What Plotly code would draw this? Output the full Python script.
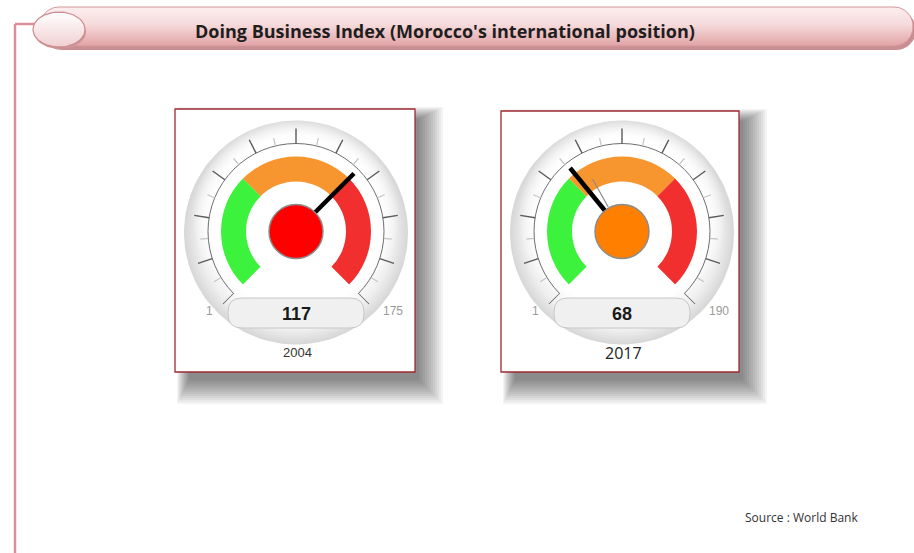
import numpy as np
import plotly.graph_objects as go

W, H = 914, 553

# --- data ---
years = ["2004", "2017"]
ranks = [117, 68]
n_countries = [175, 190]
prev_ranks = [None, 75]  # faint second needle on the 2017 dial
band_colors = ["#3cf23c", "#f7962f", "#f22f2f"]
status_colors = ["#22dd22", "#ff8000", "#ff0000"]
title = "Doing Business Index (Morocco's international position)"
source = "Source : World Bank"

# --- layout geometry (pixels) ---
centers_x = [296, 622]
center_y = 231.5
frames = [(175, 109, 415, 372), (501, 111, 739, 372)]
R_POL = 104
SWEEP = 270


def to_theta(v, vmax, vmin=1):
    return (np.asarray(v, dtype=float) - vmin) / (vmax - vmin) * SWEEP


def rounded_pts(x0, y0, x1, y1, r, n=14):
    a = np.linspace(0, np.pi / 2, n)
    xs, ys = [], []
    for cxr, cyr, start in [(x1 - r, y0 + r, -np.pi / 2), (x1 - r, y1 - r, 0),
                            (x0 + r, y1 - r, np.pi / 2), (x0 + r, y0 + r, np.pi)]:
        xs.extend(cxr + r * np.cos(start + a))
        ys.extend(cyr + r * np.sin(start + a))
    return xs + [xs[0]], ys + [ys[0]]


def ellipse_pts(cx, cy, rx, ry, n=80):
    a = np.linspace(0, 2 * np.pi, n)
    return cx + rx * np.cos(a), cy + ry * np.sin(a)


def rr_path(x0, y0, x1, y1, r):
    return (f"M{x0+r},{y0} L{x1-r},{y0} Q{x1},{y0} {x1},{y0+r} L{x1},{y1-r} "
            f"Q{x1},{y1} {x1-r},{y1} L{x0+r},{y1} Q{x0},{y1} {x0},{y1-r} "
            f"L{x0},{y0+r} Q{x0},{y0} {x0+r},{y0} Z")


fig = go.Figure()
shapes = []
annotations = []

# connector line on the left
shapes.append(dict(type="line", x0=15, y0=24, x1=15, y1=553, line=dict(color="#d98f99", width=2.5), layer="below"))
shapes.append(dict(type="line", x0=15, y0=24, x1=36, y1=24, line=dict(color="#d98f99", width=2.5), layer="below"))

# frame shadows and frames
for fx0, fy0, fx1, fy1 in frames:
    for e in range(0, 26, 2):
        shapes.append(dict(type="rect", x0=fx0 + 14 - e / 2, y0=fy0 + 10 - e / 2, x1=fx1 + 4 + e, y1=fy1 + 8 + e,
                           fillcolor="rgba(0,0,0,0.045)", line_width=0, layer="below"))
    shapes.append(dict(type="rect", x0=fx0, y0=fy0, x1=fx1, y1=fy1, fillcolor="white",
                       line=dict(color="#9c2a30", width=1.3), layer="below"))

# title bar
sx, sy = rounded_pts(42, 10, 916, 50, 20)
fig.add_trace(go.Scatter(x=sx, y=sy, fill="toself", fillcolor="#c98e91", line_width=0, mode="lines"))
px_, py_ = rounded_pts(40, 7, 913, 46, 19)
fig.add_trace(go.Scatter(x=px_, y=py_, fill="toself", mode="lines", line=dict(color="#d3979a", width=1),
                         fillgradient=dict(type="vertical", start=7, stop=46,
                                           colorscale=[[0, "#fcefef"], [0.45, "#f6dadb"], [1, "#e2a3a6"]])))
ex, ey = ellipse_pts(60, 32, 26, 17)
fig.add_trace(go.Scatter(x=ex, y=ey, fill="toself", fillcolor="#cf9598", line_width=0, mode="lines"))
ex, ey = ellipse_pts(59, 29.5, 26, 17.5)
fig.add_trace(go.Scatter(x=ex, y=ey, fill="toself", mode="lines", line=dict(color="#cc8c90", width=1.2),
                         fillgradient=dict(type="vertical", start=12, stop=47,
                                           colorscale=[[0, "#ffffff"], [1, "#f1d0d2"]])))
annotations.append(dict(x=445, y=31, xref="x", yref="y", text=title, showarrow=False,
                        font=dict(family="Open Sans", size=18, color="#1e1e1e", weight="bold")))

# gauge faces (background discs): grey rim, then a white highlight shifted upwards
for cx in centers_x:
    dx, dy = ellipse_pts(cx, center_y + 1, 112, 112, 120)
    fig.add_trace(go.Scatter(x=dx, y=dy, fill="toself", mode="lines", line_width=0,
                             fillgradient=dict(type="radial",
                                               colorscale=[[0, "#ffffff"], [0.7, "#ffffff"],
                                                           [0.87, "#efefef"], [1, "#d6d6d6"]])))
    hx, hy = ellipse_pts(cx, center_y - 14, 104, 100, 120)
    fig.add_trace(go.Scatter(x=hx, y=hy, fill="toself", mode="lines", line_width=0,
                             fillgradient=dict(type="radial",
                                               colorscale=[[0, "rgba(255,255,255,1)"],
                                                           [0.8, "rgba(255,255,255,1)"],
                                                           [1, "rgba(255,255,255,0)"]])))

# dials
for i, (yr, rank, nmax, prev, cx) in enumerate(zip(years, ranks, n_countries, prev_ranks, centers_x)):
    sub = "polar" if i == 0 else f"polar{i + 1}"
    bounds = np.linspace(1, nmax, 4)
    th_b = to_theta(bounds, nmax)
    fig.add_trace(go.Barpolar(subplot=sub, theta=(th_b[:-1] + th_b[1:]) / 2, width=np.diff(th_b),
                              base=50, r=[25, 25, 25], marker=dict(color=band_colors, line_width=0)))
    major = np.linspace(0, SWEEP, 11)
    minor = (major[:-1] + major[1:]) / 2
    r_maj, t_maj, r_min, t_min = [], [], [], []
    for t in major:
        r_maj += [88, 103, None]
        t_maj += [t, t, None]
    for t in minor:
        r_min += [88, 96, None]
        t_min += [t, t, None]
    fig.add_trace(go.Scatterpolar(subplot=sub, r=r_maj, theta=t_maj, mode="lines",
                                  line=dict(color="#5a5a5a", width=1.4)))
    fig.add_trace(go.Scatterpolar(subplot=sub, r=r_min, theta=t_min, mode="lines",
                                  line=dict(color="#c4c4c4", width=1.2)))
    if prev is not None:
        tp = float(to_theta(prev, nmax))
        fig.add_trace(go.Scatterpolar(subplot=sub, r=[28, 60], theta=[tp, tp], mode="lines",
                                      line=dict(color="#8a8a8a", width=1.2)))
    tv = float(to_theta(rank, nmax))
    fig.add_trace(go.Scatterpolar(subplot=sub, r=[0, 82], theta=[tv, tv], mode="lines",
                                  line=dict(color="black", width=4.5)))
    idx = int(np.searchsorted(bounds, rank, side="right") - 1)
    idx = min(idx, 2)
    fig.add_trace(go.Scatterpolar(subplot=sub, r=[0], theta=[0], mode="markers",
                                  marker=dict(size=54, color=status_colors[idx],
                                              line=dict(color="#8c8c8c", width=1.5))))

    fig.update_layout(**{sub: dict(
        domain=dict(x=[(cx - R_POL) / W, (cx + R_POL) / W],
                    y=[1 - (center_y + 0.70711 * R_POL) / H, 1 - (center_y - R_POL) / H]),
        sector=[-45, 225], bgcolor="rgba(0,0,0,0)", hole=0,
        radialaxis=dict(range=[0, R_POL], tickvals=[88], showgrid=True, gridcolor="#6e6e6e", gridwidth=1.4,
                        showticklabels=False, showline=False, ticks=""),
        angularaxis=dict(rotation=225, direction="clockwise", showgrid=False, showline=False,
                         ticks="", showticklabels=False),
    )})

    # value box and texts
    shapes.append(dict(type="path", path=rr_path(cx - 68, center_y + 66.5, cx + 68, center_y + 96.5, 14),
                       fillcolor="#f0f0f0", line=dict(color="#c8c8c8", width=1), layer="above"))
    annotations.append(dict(x=cx, y=center_y + 82, xref="x", yref="y", text=str(rank), showarrow=False,
                            font=dict(family="Liberation Sans", size=18, color="#1a1a1a", weight="bold")))
    annotations.append(dict(x=cx - 87, y=center_y + 79, xref="x", yref="y", text="1", showarrow=False,
                            font=dict(family="Liberation Sans", size=12, color="#9a9a9a")))
    annotations.append(dict(x=cx + 97, y=center_y + 79, xref="x", yref="y", text=str(nmax), showarrow=False,
                            font=dict(family="Liberation Sans", size=12, color="#9a9a9a")))
    yfont = dict(family="Liberation Sans", size=13, color="#333") if i == 0 else \
        dict(family="Open Sans", size=16, color="#222")
    annotations.append(dict(x=cx + 1, y=center_y + 121, xref="x", yref="y", text=yr, showarrow=False,
                            font=yfont))

annotations.append(dict(x=801, y=517, xref="x", yref="y", text=source, showarrow=False,
                        font=dict(family="Open Sans", size=12, color="#333")))

fig.update_traces(hoverinfo="skip", showlegend=False)
fig.update_layout(
    width=W, height=H, margin=dict(l=0, r=0, t=0, b=0),
    paper_bgcolor="white", plot_bgcolor="white",
    xaxis=dict(range=[0, W], visible=False, fixedrange=True, domain=[0, 1]),
    yaxis=dict(range=[H, 0], visible=False, fixedrange=True, domain=[0, 1]),
    shapes=shapes, annotations=annotations, showlegend=False,
)
fig.write_html("out.html", config=dict(displayModeBar=False),
               post_script="document.body.style.margin='0';")
